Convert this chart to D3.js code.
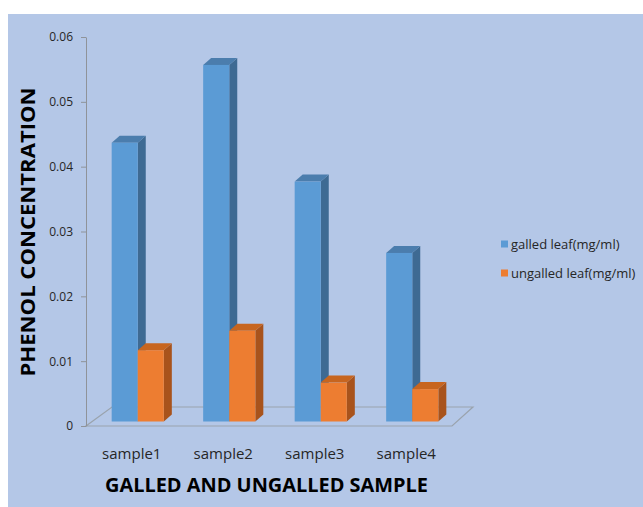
<!DOCTYPE html>
<html>
<head>
<meta charset="utf-8">
<script src="https://cdn.jsdelivr.net/npm/d3@7"></script>
<style>
  html, body { margin: 0; padding: 0; background: #ffffff; }
  svg { display: block; }
</style>
</head>
<body>
<script>
// ---- data ----
const categories = ["sample1", "sample2", "sample3", "sample4"];
const seriesNames = ["galled leaf(mg/ml)", "ungalled leaf(mg/ml)"];
const galled = [0.043, 0.055, 0.037, 0.026];
const ungalled = [0.011, 0.014, 0.006, 0.005];
const yTicks = [0, 0.01, 0.02, 0.03, 0.04, 0.05, 0.06];
const yTitle = "PHENOL CONCENTRATION";
const xTitle = "GALLED AND UNGALLED SAMPLE";

const W = 643, H = 507;
const font = "'Open Sans', 'Noto Sans', sans-serif";

const colors = [
  { front: "#5B9BD5", side: "#3E6A93", top: "#4B7DAD" },
  { front: "#ED7D31", side: "#A8531C", top: "#C7651F" }
];

const svg = d3.select("body").append("svg").attr("width", W).attr("height", H);

// background panel
svg.append("rect").attr("x", 8).attr("y", 14).attr("width", W - 8).attr("height", H - 14)
  .attr("fill", "#B4C7E7");

// scales
const x = d3.scaleBand().domain(categories).range([86, 452]).padding(0);
const y = d3.scaleLinear().domain([0, 0.06]).range([426, 37]);
const groupW = x.bandwidth() * 0.57;
const xs = d3.scaleBand().domain(seriesNames).range([0, groupW]).padding(0);

const floorD = { dx: 24, dy: -19 };
const barOff = { dx: 6, dy: -4.5 };
const barD = { dx: 8, dy: -7 };

// floor
const fx0 = x.range()[0], fx1 = x.range()[1], fy = y(0);
svg.append("path")
  .attr("d", `M${fx0},${fy} L${fx1},${fy} L${fx1 + floorD.dx - 3},${fy + floorD.dy} L${fx0 + floorD.dx + 2},${fy + floorD.dy} Z`)
  .attr("fill", "none").attr("stroke", "#9aa3ad").attr("stroke-width", 1.2);

// bars
const seriesVals = [galled, ungalled];
categories.forEach((c, i) => {
  seriesVals.forEach((vals, s) => {
    const v = vals[i];
    const xl = x(c) + (x.bandwidth() - groupW) / 2 + xs(seriesNames[s]) + barOff.dx;
    const xr = xl + xs.bandwidth();
    const base = y(0) + barOff.dy;
    const top = y(v) + barOff.dy;
    const g = svg.append("g");
    // side
    g.append("path")
      .attr("d", `M${xr},${top} L${xr + barD.dx},${top + barD.dy} L${xr + barD.dx},${base + barD.dy} L${xr},${base} Z`)
      .attr("fill", colors[s].side);
    // top
    g.append("path")
      .attr("d", `M${xl},${top} L${xl + barD.dx},${top + barD.dy} L${xr + barD.dx},${top + barD.dy} L${xr},${top} Z`)
      .attr("fill", colors[s].top);
    // front
    g.append("rect").attr("x", xl).attr("y", top).attr("width", xr - xl).attr("height", base - top)
      .attr("fill", colors[s].front);
  });
});

// y axis
const yAxis = d3.axisLeft(y).tickValues(yTicks).tickSize(5).tickSizeOuter(0).tickPadding(8)
  .tickFormat(d => d === 0 ? "0" : d.toFixed(2));
const ga = svg.append("g").attr("transform", `translate(86,0)`).call(yAxis);
ga.select(".domain").attr("stroke", "#8f9399");
ga.selectAll(".tick line").attr("stroke", "#8f9399");
ga.selectAll(".tick text").attr("fill", "#262626").attr("font-family", font).attr("font-size", 12);

// category labels
svg.append("g").selectAll("text").data(categories).join("text")
  .attr("x", d => x(d) + x.bandwidth() / 2)
  .attr("y", 459)
  .attr("text-anchor", "middle")
  .attr("font-family", font).attr("font-size", 15).attr("fill", "#262626")
  .text(d => d);

// axis titles
svg.append("text")
  .attr("x", 266.5).attr("y", 492)
  .attr("text-anchor", "middle")
  .attr("font-family", font).attr("font-weight", "bold").attr("font-size", 20)
  .attr("textLength", 323).attr("lengthAdjust", "spacingAndGlyphs")
  .attr("fill", "#000").text(xTitle);

svg.append("text")
  .attr("transform", "translate(35,232) rotate(-90)")
  .attr("text-anchor", "middle")
  .attr("font-family", font).attr("font-weight", "bold").attr("font-size", 20)
  .attr("textLength", 289).attr("lengthAdjust", "spacingAndGlyphs")
  .attr("fill", "#000").text(yTitle);

// legend
const lg = svg.append("g");
seriesNames.forEach((n, s) => {
  const ly = 244 + s * 29;
  lg.append("rect").attr("x", 501).attr("y", ly - 3.5).attr("width", 7).attr("height", 7)
    .attr("fill", colors[s].front);
  lg.append("text").attr("x", 511).attr("y", ly + 4.5)
    .attr("font-family", font).attr("font-size", 13).attr("fill", "#262626").text(n);
});
</script>
</body>
</html>
